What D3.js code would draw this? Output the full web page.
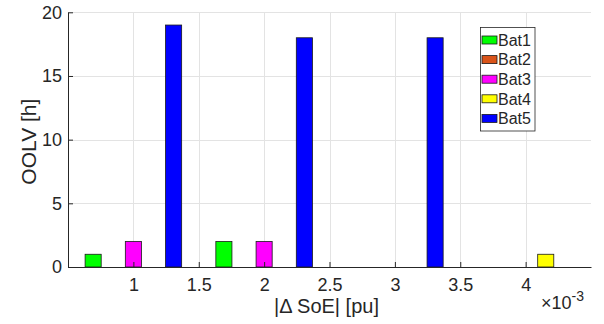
<!DOCTYPE html>
<html>
<head>
<meta charset="utf-8">
<script src="https://cdn.jsdelivr.net/npm/d3@7"></script>
<style>
  html, body { margin: 0; padding: 0; background: #fff; }
  svg { display: block; font-family: "Liberation Sans", Arial, Helvetica, sans-serif; }
</style>
</head>
<body>
<svg id="chart" width="604" height="324"></svg>
<script>
// |ΔSoE| groups (pu) and out-of-limit-voltage hours per battery
const groups = [0.001, 0.002, 0.003, 0.004];
const seriesNames = ["Bat1", "Bat2", "Bat3", "Bat4", "Bat5"];
const seriesColors = ["#00ff00", "#d95319", "#ff00ff", "#ffff00", "#0000ff"];
const bat1 = [1, 2, 0, 0];
const bat2 = [0, 0, 0, 0];
const bat3 = [2, 2, 0, 0];
const bat4 = [0, 0, 0, 1];
const bat5 = [19, 18, 18, 0];
const seriesValues = [bat1, bat2, bat3, bat4, bat5];
const xTicks = [0.001, 0.0015, 0.002, 0.0025, 0.003, 0.0035, 0.004];
const xTickLabels = ["1", "1.5", "2", "2.5", "3", "3.5", "4"];
const yTicks = [0, 5, 10, 15, 20];

const svg = d3.select("#chart");
const ink = "#262626";
const m = { left: 68, right: 591, top: 12.3, bottom: 267 };

const x = d3.scaleLinear().domain([0.0005, 0.0045]).range([m.left, m.right]);
const y = d3.scaleLinear().domain([0, 20]).range([m.bottom, m.top]);

// grid
const grid = svg.append("g").attr("stroke", "#e3e3e3").attr("stroke-width", 1);
grid.selectAll("line.v").data(xTicks).join("line")
  .attr("x1", d => Math.round(x(d)) + 0.5).attr("x2", d => Math.round(x(d)) + 0.5)
  .attr("y1", m.top).attr("y2", m.bottom);
grid.selectAll("line.h").data(yTicks.slice(1)).join("line")
  .attr("x1", m.left).attr("x2", m.right)
  .attr("y1", d => Math.round(y(d)) + 0.5).attr("y2", d => Math.round(y(d)) + 0.5);

// grouped bars
const nS = seriesNames.length;
const groupUnit = 0.001;
const groupWidth = Math.min(0.8, nS / (nS + 1.5)) * groupUnit;
const slot = groupWidth / nS;
const barW = 0.8 * slot;

const bars = svg.append("g");
seriesValues.forEach((vals, s) => {
  bars.selectAll(null).data(vals.map((v, i) => ({ g: groups[i], v }))).join("rect")
    .attr("x", d => x(d.g - groupWidth / 2 + (s + 0.5) * slot - barW / 2))
    .attr("width", d => x(d.g + barW) - x(d.g))
    .attr("y", d => y(d.v))
    .attr("height", d => y(0) - y(d.v))
    .attr("fill", seriesColors[s])
    .attr("stroke", "#1a1a1a")
    .attr("stroke-width", 0.8);
});

// axes
const xAxis = d3.axisBottom(x).tickValues(xTicks)
  .tickFormat((d, i) => xTickLabels[i])
  .tickSizeInner(-5).tickSizeOuter(0).tickPadding(11);
const gx = svg.append("g").attr("transform", `translate(0,${m.bottom})`).call(xAxis);
gx.select(".domain").attr("stroke", ink);
gx.selectAll(".tick line").attr("stroke", ink);
gx.selectAll(".tick text").attr("fill", ink).attr("font-size", 18);

const yAxis = d3.axisLeft(y).tickValues(yTicks)
  .tickSizeInner(-5).tickSizeOuter(0).tickPadding(6);
const gy = svg.append("g").attr("transform", `translate(${m.left},0)`).call(yAxis);
gy.select(".domain").attr("stroke", ink);
gy.selectAll(".tick line").attr("stroke", ink);
gy.selectAll(".tick text").attr("fill", ink).attr("font-size", 18);
svg.selectAll(".tick text").attr("font-family", "Liberation Sans, Arial, sans-serif");

// axis labels
svg.append("text")
  .attr("x", (m.left + m.right) / 2 - 3).attr("y", 313)
  .attr("text-anchor", "middle").attr("font-size", 20).attr("fill", ink)
  .text("|\u0394 SoE| [pu]");
svg.append("text")
  .attr("transform", `translate(36,${(m.top + m.bottom) / 2 + 2}) rotate(-90)`)
  .attr("text-anchor", "middle").attr("font-size", 21).attr("fill", ink)
  .text("OOLV [h]");

// exponent marker
const ex = svg.append("text").attr("x", 541).attr("y", 309)
  .attr("font-size", 18).attr("fill", ink);
ex.append("tspan").text("\u00d710");
ex.append("tspan").attr("dy", -8).attr("font-size", 14).text("-3");

// legend
const lg = svg.append("g");
lg.append("rect").attr("x", 480.5).attr("y", 27.5).attr("width", 54.5).attr("height", 103.5)
  .attr("fill", "#fff").attr("stroke", ink).attr("stroke-width", 0.8);
seriesNames.forEach((name, i) => {
  const cy = 40 + i * 19.6;
  lg.append("rect").attr("x", 482).attr("y", cy - 4).attr("width", 15).attr("height", 8)
    .attr("fill", seriesColors[i]).attr("stroke", "#1a1a1a").attr("stroke-width", 0.8);
  lg.append("text").attr("x", 498).attr("y", cy + 5.8)
    .attr("font-size", 16).attr("fill", ink).text(name);
});
</script>
</body>
</html>
